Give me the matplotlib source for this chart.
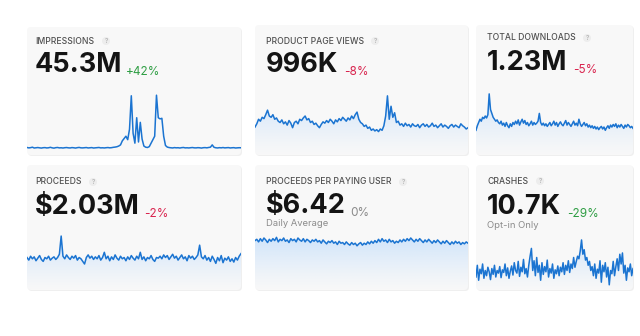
import matplotlib.pyplot as plt
import numpy as np
from matplotlib.patches import FancyBboxPatch, Circle

plt.rcParams['font.family'] = ['Inter', 'DejaVu Sans']

# --- data ---
titles = ['IMPRESSIONS', 'PRODUCT PAGE VIEWS', 'TOTAL DOWNLOADS',
          'PROCEEDS', 'PROCEEDS PER PAYING USER', 'CRASHES']
totals = ['45.3M', '996K', '1.23M', '$2.03M', '$6.42', '10.7K']
changes = ['+42%', '-8%', '-5%', '-2%', '0%', '-29%']
notes = ['', '', '', '', 'Daily Average', 'Opt-in Only']

impressions = [
    105, 98, 102, 110, 96, 100, 104, 99, 95, 101,
    103, 97, 100, 108, 99, 94, 102, 105, 98, 100,
    96, 101, 104, 99, 97, 103, 100, 95, 102, 106,
    99, 98, 101, 104, 97, 100, 103, 96, 99, 102,
    105, 98, 100, 97, 101, 104, 99, 102, 108, 112,
    118, 130, 150, 220, 260, 300, 240, 420, 1000, 350,
    180, 620, 200, 540, 250, 130, 110, 105, 120, 180,
    240, 300, 1010, 620, 600, 610, 300, 140, 112, 104,
    100, 97, 103, 99, 101, 96, 102, 105, 98, 100,
    97, 101, 104, 99, 98, 102, 100, 95, 101, 103,
    99, 105, 110, 150, 108, 100, 97, 102, 99, 104,
    98, 101, 103, 97, 100, 102, 96, 99, 101, 100]

page_views = [
    43, 48, 55, 52, 58, 56, 62, 69, 60, 58,
    62, 55, 57, 52, 50, 54, 48, 51, 46, 53,
    49, 42, 50, 52, 48, 55, 53, 57, 60, 54,
    56, 50, 52, 47, 49, 45, 42, 47, 51, 49,
    53, 50, 55, 52, 48, 54, 51, 56, 53, 58,
    55, 52, 57, 54, 60, 56, 62, 66, 55, 50,
    48, 44, 46, 41, 43, 38, 40, 37, 39, 36,
    40, 38, 45, 60, 91, 55, 75, 58, 65, 50,
    52, 46, 48, 44, 49, 45, 47, 43, 48, 45,
    44, 47, 42, 46, 48, 44, 47, 43, 45, 49,
    44, 46, 42, 45, 48, 43, 46, 44, 41, 45,
    47, 43, 46, 44, 42, 48, 45, 43, 40, 42]

downloads = [
    38, 45, 50, 55, 52, 58, 56, 60, 57, 62,
    94, 70, 64, 58, 55, 52, 54, 50, 48, 52,
    46, 49, 44, 50, 45, 42, 48, 44, 50, 47,
    52, 48, 54, 46, 51, 55, 49, 53, 47, 50,
    45, 48, 52, 46, 50, 47, 49, 52, 64, 50,
    46, 49, 45, 48, 44, 47, 50, 45, 48, 52,
    46, 50, 44, 48, 51, 47, 45, 49, 53, 46,
    50, 47, 44, 48, 52, 46, 49, 45, 55, 48,
    44, 47, 50, 45, 48, 43, 46, 42, 45, 41,
    44, 40, 43, 39, 42, 44, 40, 43, 38, 42,
    45, 41, 46, 43, 47, 44, 48, 42, 46, 43,
    47, 44, 41, 46, 43, 47, 45, 42, 44, 41]

proceeds = [
    50, 46, 52, 48, 51, 45, 49, 53, 47, 44,
    50, 48, 52, 46, 49, 51, 47, 50, 55, 83,
    52, 48, 54, 50, 47, 52, 49, 53, 46, 50,
    48, 44, 40, 50, 54, 49, 52, 47, 51, 48,
    53, 46, 50, 58, 48, 52, 45, 51, 47, 54,
    49, 46, 52, 48, 50, 45, 51, 47, 53, 49,
    46, 52, 48, 58, 47, 51, 45, 50, 48, 53,
    47, 44, 50, 49, 52, 48, 54, 50, 53, 47,
    51, 55, 49, 52, 46, 50, 54, 48, 51, 45,
    53, 49, 52, 47, 50, 54, 69, 51, 48, 53,
    46, 50, 44, 52, 47, 41, 50, 45, 53, 42,
    49, 46, 51, 44, 48, 43, 50, 46, 52, 56]

per_user = [
    76, 78, 74, 79, 75, 80, 77, 73, 78, 75,
    79, 76, 81, 74, 78, 76, 80, 75, 77, 73,
    79, 76, 78, 74, 80, 77, 75, 79, 74, 78,
    76, 73, 77, 75, 78, 74, 76, 72, 77, 74,
    71, 75, 73, 76, 72, 74, 70, 75, 72, 73,
    70, 74, 71, 69, 73, 70, 72, 68, 71, 73,
    69, 72, 70, 74, 71, 75, 72, 76, 73, 78,
    74, 79, 75, 77, 73, 78, 74, 76, 72, 75,
    73, 77, 74, 78, 75, 79, 76, 80, 77, 74,
    78, 75, 79, 76, 73, 77, 74, 78, 75, 72,
    76, 73, 77, 74, 71, 75, 72, 76, 73, 70,
    74, 71, 75, 72, 74, 70, 73, 71, 74, 72]

crashes = [
    20, 38, 15, 32, 25, 40, 18, 30, 22, 35,
    28, 16, 33, 24, 38, 20, 30, 26, 36, 19,
    31, 27, 40, 22, 34, 18, 29, 37, 23, 42,
    30, 26, 44, 21, 35, 28, 47, 25, 33, 20,
    38, 52, 64, 30, 45, 22, 50, 27, 38, 15,
    42, 24, 36, 28, 46, 20, 33, 26, 40, 18,
    31, 25, 37, 22, 35, 28, 42, 24, 38, 30,
    45, 27, 40, 33, 50, 35, 44, 52, 48, 60,
    77, 55, 62, 46, 50, 38, 44, 30, 36, 22,
    40, 18, 32, 26, 45, 12, 38, 28, 42, 20,
    35, 8, 30, 25, 44, 22, 36, 48, 30, 55,
    40, 57, 26, 38, 15, 34, 28, 40, 22, 33]

series = [impressions, page_views, downloads, proceeds, per_user, crashes]

# --- layout (pixels) ---
W, H = 640, 336
cards = [(27, 27, 241, 155), (255, 25, 468, 155), (476, 25, 633, 155),
         (27, 165, 241, 290), (255, 165, 468, 290), (476, 165, 633, 290)]
text_x = [35, 266, 487, 35, 266, 487]
title_y = [41, 41, 38, 182, 182, 181]
big_y = [65, 65, 63, 207, 206, 207]
change_x = [126, 344, 573, 144, 350, 567]
qmark_x = [106, 375, 587, 93, 403, 540]
chart_top = [90, 90, 90, 225, 225, 225]
ylims = [(-25, 1100), (0, 100), (0, 100), (0, 100), (0, 100), (0, 100)]
fill_alpha = [0.0, 0.9, 0.9, 0.9, 0.9, 0.9]

GREEN = '#2f9e44'
RED = '#d9254f'
GRAY = '#8a8a8a'
LINE = '#1b74d1'

fig = plt.figure(figsize=(6.4, 3.36), dpi=100)
fig.patch.set_facecolor('white')
bg = fig.add_axes([0, 0, 1, 1])
bg.set_xlim(0, W)
bg.set_ylim(H, 0)
bg.set_axis_off()

grad = np.linspace(0, 1, 256).reshape(-1, 1)

for k in range(6):
    x0, y0, x1, y1 = cards[k]
    bg.add_patch(FancyBboxPatch((x0 + 1, y0 + 1), x1 - x0, y1 - y0,
                                boxstyle='round,pad=0,rounding_size=4',
                                fc='#efefef', ec='none', zorder=0))
    bg.add_patch(FancyBboxPatch((x0, y0), x1 - x0, y1 - y0,
                                boxstyle='round,pad=0,rounding_size=4',
                                fc='#f8f8f8', ec='none', zorder=1))
    tx = text_x[k]
    bg.text(tx, title_y[k], titles[k], fontsize=6.2, fontweight='medium',
            color='#505050', va='center', ha='left', zorder=3)
    bg.add_patch(Circle((qmark_x[k], title_y[k]), 4, fc='#ededed', ec='none', zorder=2))
    bg.text(qmark_x[k], title_y[k] + 0.3, '?', fontsize=4.5, color='#a0a0a0',
            va='center', ha='center', zorder=3)
    bg.text(tx - 0.5, big_y[k], totals[k], fontsize=19.5, fontweight='bold',
            color='#141414', va='center', ha='left', zorder=3)
    ch = changes[k]
    col = GREEN if ch.startswith('+') or k == 5 else (GRAY if ch == '0%' else RED)
    bg.text(change_x[k], big_y[k] + 7, ch, fontsize=8.5, color=col,
            va='center', ha='left', zorder=3)
    if notes[k]:
        bg.text(tx, big_y[k] + 18, notes[k], fontsize=6.8, color='#8c8c8c',
                va='center', ha='left', zorder=3)

    # sparkline
    ax = fig.add_axes([x0 / W, 1 - y1 / H, (x1 - x0) / W, (y1 - chart_top[k]) / H])
    ax.set_axis_off()
    ax.patch.set_alpha(0)
    vals = series[k]
    xs = np.arange(len(vals))
    ax.set_xlim(0, len(vals) - 1)
    ax.set_ylim(*ylims[k])
    if fill_alpha[k] > 0:
        poly = ax.fill_between(xs, vals, ylims[k][0], color='none', lw=0)
        rgba = np.zeros((256, 1, 4))
        rgba[..., 0] = 0.80
        rgba[..., 1] = 0.89
        rgba[..., 2] = 0.985
        rgba[..., 3] = fill_alpha[k] * grad ** 1.2
        im = ax.imshow(rgba, aspect='auto', origin='lower',
                       extent=[0, len(vals) - 1, ylims[k][0], max(vals)], zorder=1)
        im.set_clip_path(poly.get_paths()[0], transform=ax.transData)
    ax.plot(xs, vals, color=LINE, lw=1.1, zorder=2, solid_joinstyle='round')

fig.savefig('out.png', dpi=100, facecolor='white')
